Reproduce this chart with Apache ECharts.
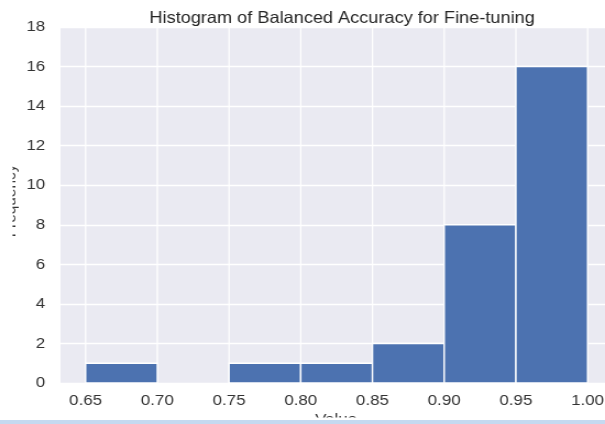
<!DOCTYPE html>
<html>
<head>
<meta charset="utf-8">
<script src="https://cdn.jsdelivr.net/npm/echarts@6/dist/echarts.min.js"></script>
<style>
  html, body { margin: 0; padding: 0; background: #ffffff; overflow: hidden; width: 605px; height: 424px; }
  /* the figure is drawn narrow and widened horizontally */
  #chart { width: 560px; height: 424px; transform: scaleX(1.1); transform-origin: 0 0; }
</style>
</head>
<body>
<div id="chart"></div>
<script>
// Histogram bins (edges) and the count in each bin
const binEdges = [0.65, 0.70, 0.75, 0.80, 0.85, 0.90, 0.95, 1.00];
const counts = [1, 0, 1, 1, 2, 8, 16];
// Tick positions on the value axes
const xTickValues = [0.65, 0.70, 0.75, 0.80, 0.85, 0.90, 0.95, 1.00];
const yTickValues = [0, 2, 4, 6, 8, 10, 12, 14, 16, 18];

const titleText = 'Histogram of Balanced Accuracy for Fine-tuning';
const xName = 'Value';
const yName = 'Frequency';

const barData = counts.map((c, i) => [binEdges[i], binEdges[i + 1], c]);
const gridData = xTickValues.map(v => [v]);

const chart = echarts.init(document.getElementById('chart'), null, { renderer: 'canvas' });
const font = '"Liberation Sans", Arial, Helvetica, sans-serif';
const textColor = '#333333';

chart.setOption({
  animation: false,
  backgroundColor: '#ffffff',
  title: {
    text: titleText,
    left: 306,
    top: 5,
    textAlign: 'center',
    textStyle: { fontFamily: font, fontSize: 16.5, fontWeight: 'normal', color: '#262626' }
  },
  grid: {
    left: 55, right: 3, top: 27, bottom: 41,
    show: true, backgroundColor: '#eaeaf2', borderWidth: 0
  },
  xAxis: {
    type: 'value',
    min: 0.6325,
    max: 1.0175,
    axisLine: { show: false },
    axisTick: { show: false },
    splitLine: { show: false },
    axisLabel: {
      customValues: xTickValues,
      formatter: v => v.toFixed(2),
      fontFamily: font, fontSize: 15.4, color: textColor, margin: 10
    }
  },
  yAxis: {
    type: 'value',
    min: yTickValues[0],
    max: yTickValues[yTickValues.length - 1],
    interval: 2,
    axisLine: { show: false },
    axisTick: { show: false },
    splitLine: { show: true, lineStyle: { color: '#ffffff', width: 1.4 } },
    axisLabel: { fontFamily: font, fontSize: 15.4, color: textColor, margin: 14 }
  },
  series: [
    {
      // vertical grid lines at each tick value
      type: 'custom',
      z: 1,
      silent: true,
      data: gridData,
      encode: { x: 0 },
      renderItem: function (params, api) {
        const cs = params.coordSys;
        const x = api.coord([api.value(0), 0])[0];
        return {
          type: 'line',
          shape: { x1: x, y1: cs.y, x2: x, y2: cs.y + cs.height },
          style: { stroke: '#ffffff', lineWidth: 1.3 }
        };
      }
    },
    {
      // histogram bars
      type: 'custom',
      z: 2,
      data: barData,
      encode: { x: [0, 1], y: 2 },
      renderItem: function (params, api) {
        if (api.value(2) <= 0) return null;
        const p0 = api.coord([api.value(0), 0]);
        const p1 = api.coord([api.value(1), api.value(2)]);
        return {
          type: 'rect',
          shape: { x: p0[0], y: p1[1], width: p1[0] - p0[0], height: p0[1] - p1[1] },
          style: { fill: '#4c72b0', stroke: '#ffffff', lineWidth: 1.4 }
        };
      }
    }
  ],
  graphic: [
    {
      type: 'text',
      x: 17.3, y: 201,
      rotation: Math.PI / 2,
      style: {
        text: yName, font: '15.4px ' + font, fill: textColor,
        align: 'center', verticalAlign: 'bottom'
      },
      z: 5
    },
    {
      type: 'rect',
      shape: { x: 0, y: 140, width: 11.4, height: 130 },
      style: { fill: '#ffffff' },
      z: 6
    },
    {
      type: 'text',
      x: 305.5, y: 412,
      style: {
        text: xName, font: '15.4px ' + font, fill: textColor,
        align: 'center', verticalAlign: 'top'
      },
      z: 5
    },
    {
      type: 'rect',
      shape: { x: 0, y: 417.5, width: 560, height: 2.5 },
      style: { fill: '#ffffff' },
      z: 6
    },
    {
      type: 'rect',
      shape: { x: 0, y: 420, width: 560, height: 4 },
      style: { fill: '#c5d9f0' },
      z: 6
    }
  ]
});
</script>
</body>
</html>
